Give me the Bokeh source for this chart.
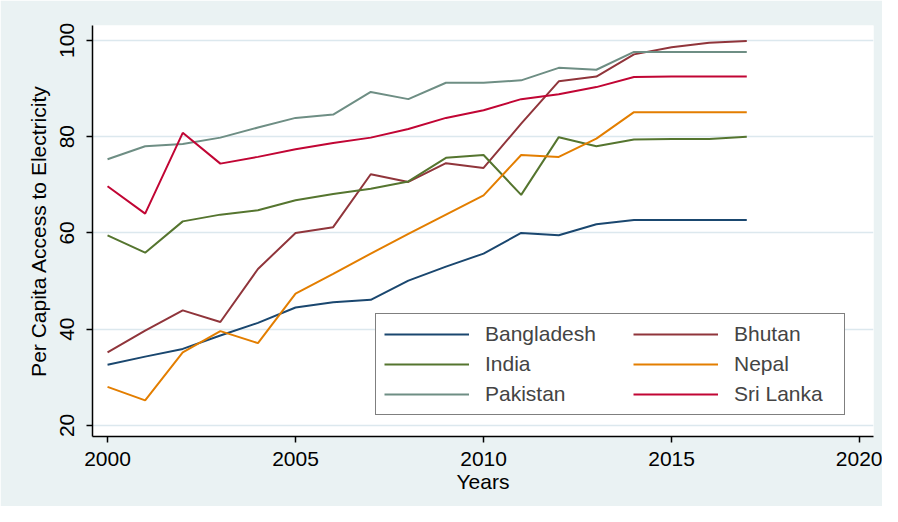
from bokeh.plotting import figure
from bokeh.models import Legend, LegendItem, FixedTicker, Range1d
from bokeh.embed import file_html
from bokeh.resources import INLINE

years = list(range(2000, 2018))
bangladesh = [32.6, 34.3, 35.9, 38.7, 41.3, 44.5, 45.6, 46.1, 50.1, 53.0, 55.7, 60.0, 59.5, 61.8, 62.7, 62.7, 62.7, 62.7]
bhutan = [35.2, 39.7, 43.9, 41.5, 52.5, 60.0, 61.2, 72.2, 70.6, 74.5, 73.5, 82.7, 91.5, 92.5, 97.1, 98.6, 99.5, 99.9]
india = [59.5, 55.9, 62.4, 63.8, 64.7, 66.8, 68.1, 69.2, 70.7, 75.6, 76.2, 67.9, 79.9, 78.0, 79.4, 79.5, 79.5, 80.0]
nepal = [28.0, 25.2, 35.2, 39.6, 37.1, 47.4, 51.5, 55.7, 59.8, 63.8, 67.8, 76.2, 75.8, 79.6, 85.1, 85.1, 85.1, 85.1]
pakistan = [75.3, 78.0, 78.5, 79.8, 81.9, 83.9, 84.6, 89.3, 87.8, 91.2, 91.2, 91.7, 94.3, 93.9, 97.6, 97.6, 97.6, 97.6]
sri_lanka = [69.7, 64.0, 80.8, 74.4, 75.8, 77.4, 78.7, 79.8, 81.6, 83.9, 85.5, 87.8, 88.8, 90.3, 92.4, 92.5, 92.5, 92.5]

series_names = ["Bangladesh", "Bhutan", "India", "Nepal", "Pakistan", "Sri Lanka"]
series_values = [bangladesh, bhutan, india, nepal, pakistan, sri_lanka]
series_colors = ["#1a476f", "#90353b", "#55752f", "#e37e00", "#6e8e84", "#c10534"]

x_ticks = [2000, 2005, 2010, 2015, 2020]
y_ticks = [20, 40, 60, 80, 100]

FONT = "Liberation Sans"
FS = "21px"
BG = "#EAF2F3"

p = figure(width=882, height=506, output_backend="svg", toolbar_location=None,
           x_range=Range1d(1999.6, 2020.37), y_range=Range1d(17.7, 103.1),
           min_border_left=92, min_border_right=9, min_border_top=25, min_border_bottom=70)
p.background_fill_color = "white"
p.border_fill_color = BG
p.outline_line_color = None

renderers = {}
for name, vals, col in zip(series_names, series_values, series_colors):
    renderers[name] = p.line(years, vals, line_color=col, line_width=2)

# axes
p.xaxis.ticker = FixedTicker(ticks=x_ticks)
p.yaxis.ticker = FixedTicker(ticks=y_ticks)
for ax in (p.xaxis, p.yaxis):
    ax.axis_line_color = "black"
    ax.axis_line_width = 1.5
    ax.major_tick_line_color = "black"
    ax.major_tick_line_width = 1.5
    ax.major_tick_out = 6
    ax.major_tick_in = 0
    ax.minor_tick_line_color = None
    ax.major_label_text_font = FONT
    ax.major_label_text_font_size = FS
    ax.major_label_text_color = "black"
    ax.axis_label_text_font = FONT
    ax.axis_label_text_font_size = FS
    ax.axis_label_text_font_style = "normal"
    ax.axis_label_text_color = "black"
p.xaxis.axis_label = "Years"
p.yaxis.axis_label = "Per Capita Access to Electricity"
p.xaxis.major_label_standoff = 9
p.xaxis.axis_label_standoff = 1
p.yaxis.major_label_orientation = "vertical"
p.yaxis.major_label_standoff = 12
p.yaxis.axis_label_standoff = 8

p.xgrid.grid_line_color = None
p.ygrid.grid_line_color = "#DCE8EE"
p.ygrid.grid_line_width = 1.5

# legend: two columns built as two legends sharing one box
col1 = ["Bangladesh", "India", "Pakistan"]
col2 = ["Bhutan", "Nepal", "Sri Lanka"]
common = dict(label_text_font=FONT, label_text_font_size=FS,
              glyph_width=85, glyph_height=20, label_height=20,
              label_standoff=16, spacing=6, padding=8, margin=0)
legend1 = Legend(items=[LegendItem(label=n, renderers=[renderers[n]]) for n in col1],
                 location=(283, 21), border_line_color="black", border_line_width=1.5,
                 background_fill_color="white", background_fill_alpha=1.0,
                 label_width=351, **common)
legend2 = Legend(items=[LegendItem(label=n, renderers=[renderers[n]]) for n in col2],
                 location=(541, 30), border_line_color=None,
                 background_fill_alpha=0.0, **common)
p.add_layout(legend1, "center")
p.add_layout(legend2, "center")

open("out.html", "w").write(file_html(p, INLINE))
